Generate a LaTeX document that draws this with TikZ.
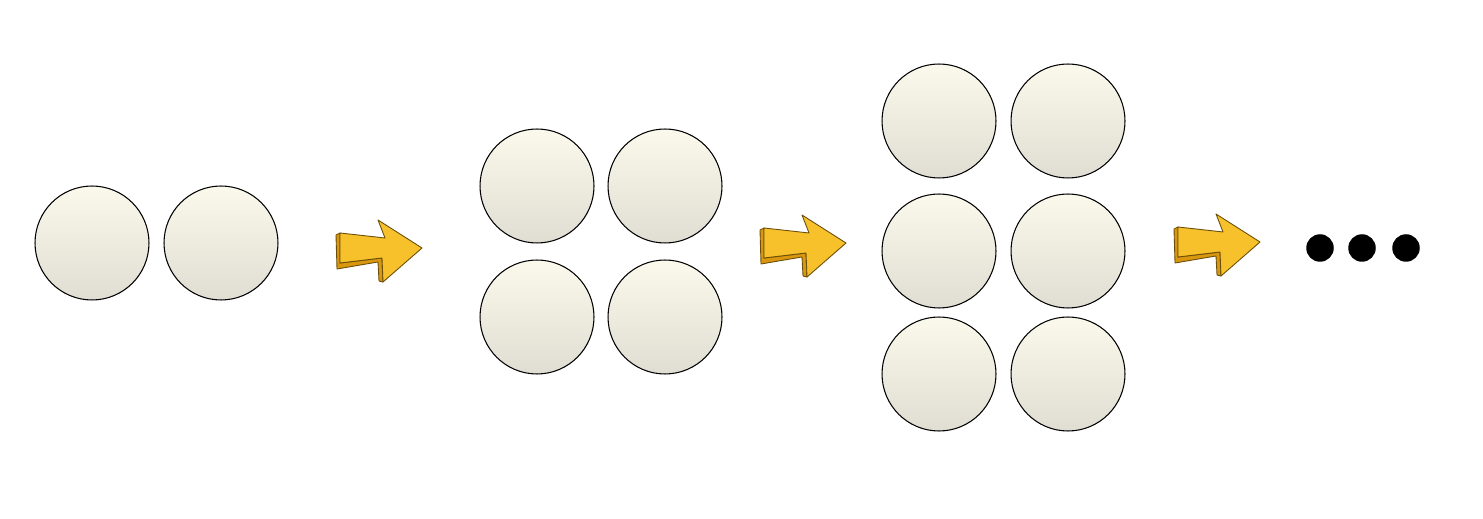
\documentclass[tikz,border=0pt]{standalone}
\usepackage{tikz}

\definecolor{balltop}{HTML}{FBF8EC}
\definecolor{ballbot}{HTML}{E0DDD2}
\definecolor{arrowface}{HTML}{F7C12B}
\definecolor{arrowside}{HTML}{D9970F}
\definecolor{arrowline}{HTML}{6B4E0A}

\tikzset{
  ball/.style={circle, draw, line width=0.6pt, inner sep=0pt,
    minimum size=2.28cm, top color=balltop, bottom color=ballbot},
  dot/.style={circle, fill=black, inner sep=0pt, minimum size=0.55cm},
  fatarrow/.pic={
    \filldraw[fill=arrowside, draw=arrowline, line width=0.5pt, line join=round]
      (0,-15) -- (4,-17) -- (4,13) -- (46,8) -- (47,32) -- (43,31)
      -- (42,12) -- (1,19) -- cycle;
    \filldraw[fill=arrowface, draw=arrowline, line width=0.5pt, line join=round]
      (4,-17) -- (49,-12) -- (42,-30) -- (86,-2) -- (47,32) -- (46,8)
      -- (4,13) -- cycle;
  }
}

\begin{document}
\begin{tikzpicture}[x=0.02cm, y=-0.02cm]
  \useasboundingbox (0,0) rectangle (1483,519);

  \node [ball] (A1) at (92,243) {};
  \node [ball] (A2) at (221,243) {};

  \node [ball] (B1) at (537,186) {};
  \node [ball] (B2) at (665,186) {};
  \node [ball] (B3) at (537,317) {};
  \node [ball] (B4) at (665,317) {};

  \node [ball] (C1) at (939,121) {};
  \node [ball] (C2) at (1068,121) {};
  \node [ball] (C3) at (939,251) {};
  \node [ball] (C4) at (1068,251) {};
  \node [ball] (C5) at (939,374) {};
  \node [ball] (C6) at (1068,374) {};

  \pic at (336,250) {fatarrow};
  \pic at (760,245) {fatarrow};
  \pic at (1174,244) {fatarrow};

  \node [dot] (D1) at (1320,248) {};
  \node [dot] (D2) at (1362,248) {};
  \node [dot] (D3) at (1406,248) {};
\end{tikzpicture}
\end{document}
